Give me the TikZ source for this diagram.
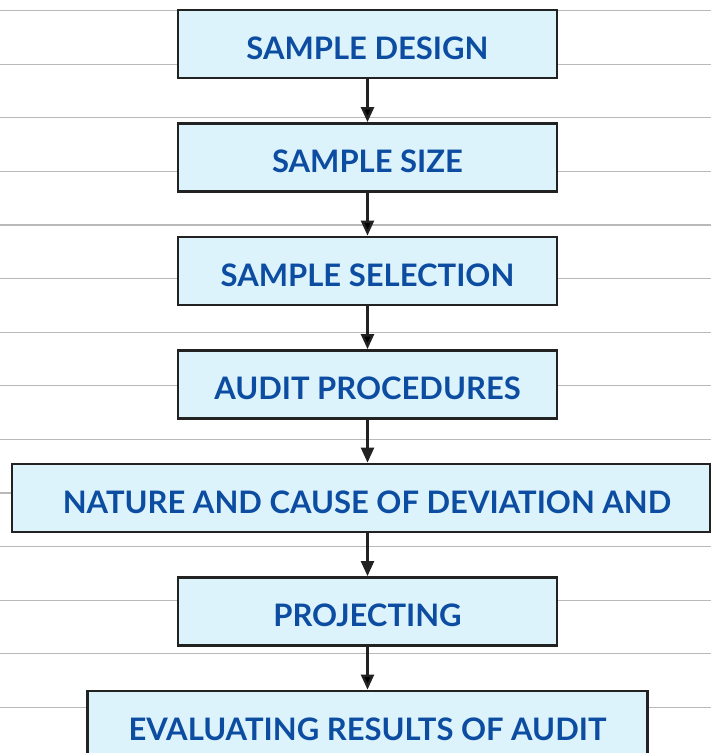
\documentclass[tikz,border=0pt]{standalone}
\usepackage{fontspec}
\setsansfont{Lato}
\usepackage{xcolor}
\usepackage{tikz}
\usetikzlibrary{calc, positioning, arrows.meta}

\definecolor{boxfill}{HTML}{DDF3FC}
\definecolor{boxtext}{HTML}{0C4DA2}
\definecolor{boxline}{HTML}{222222}
\definecolor{ruleline}{HTML}{B9B9B9}

\begin{document}
\begin{tikzpicture}[x=1pt,y=-1pt,-,auto,
                    main node/.style={rectangle,draw=boxline,line width=2.8pt,fill=boxfill,
                      text=boxtext,inner sep=0pt,minimum height=68pt,
                      text height=34pt,text depth=4pt,
                      font=\sffamily\bfseries\fontsize{31}{36}\selectfont},
                    flow/.style={draw=boxline,line width=2.4pt,-{Triangle[length=15pt,width=13pt]}}]

  \useasboundingbox (0,0) rectangle (711,753);

  % ruled background
  \foreach \k in {0,...,13}
    \draw[ruleline,line width=1.2pt] (0,{10.5+53.6*\k}) -- (711,{10.5+53.6*\k});

  \node[main node,minimum width=379pt] (1) at (367.5,44) {SAMPLE DESIGN};
  \node[main node,minimum width=379pt] (2) at (367.5,157.5) {SAMPLE SIZE};
  \node[main node,minimum width=379pt] (3) at (367.5,271) {SAMPLE SELECTION};
  \node[main node,minimum width=379pt] (4) at (367.5,384.5) {AUDIT PROCEDURES};
  \node[main node,minimum width=698pt] (5) at (361,498) {\hspace{12pt}NATURE AND CAUSE OF DEVIATION AND};
  \node[main node,minimum width=379pt] (6) at (367.5,611.5) {PROJECTING};
  \node[main node,minimum width=560pt] (7) at (367.5,725) {EVALUATING RESULTS OF AUDIT};

  \path[flow]
    (1) edge (2)
    (2) edge (3)
    (3) edge (4);
  \draw[flow] (4.south) -- (4.south |- 5.north);
  \draw[flow] (4.south |- 5.south) -- (6.north);
  \path[flow]
    (6) edge (7);

\end{tikzpicture}
\end{document}
